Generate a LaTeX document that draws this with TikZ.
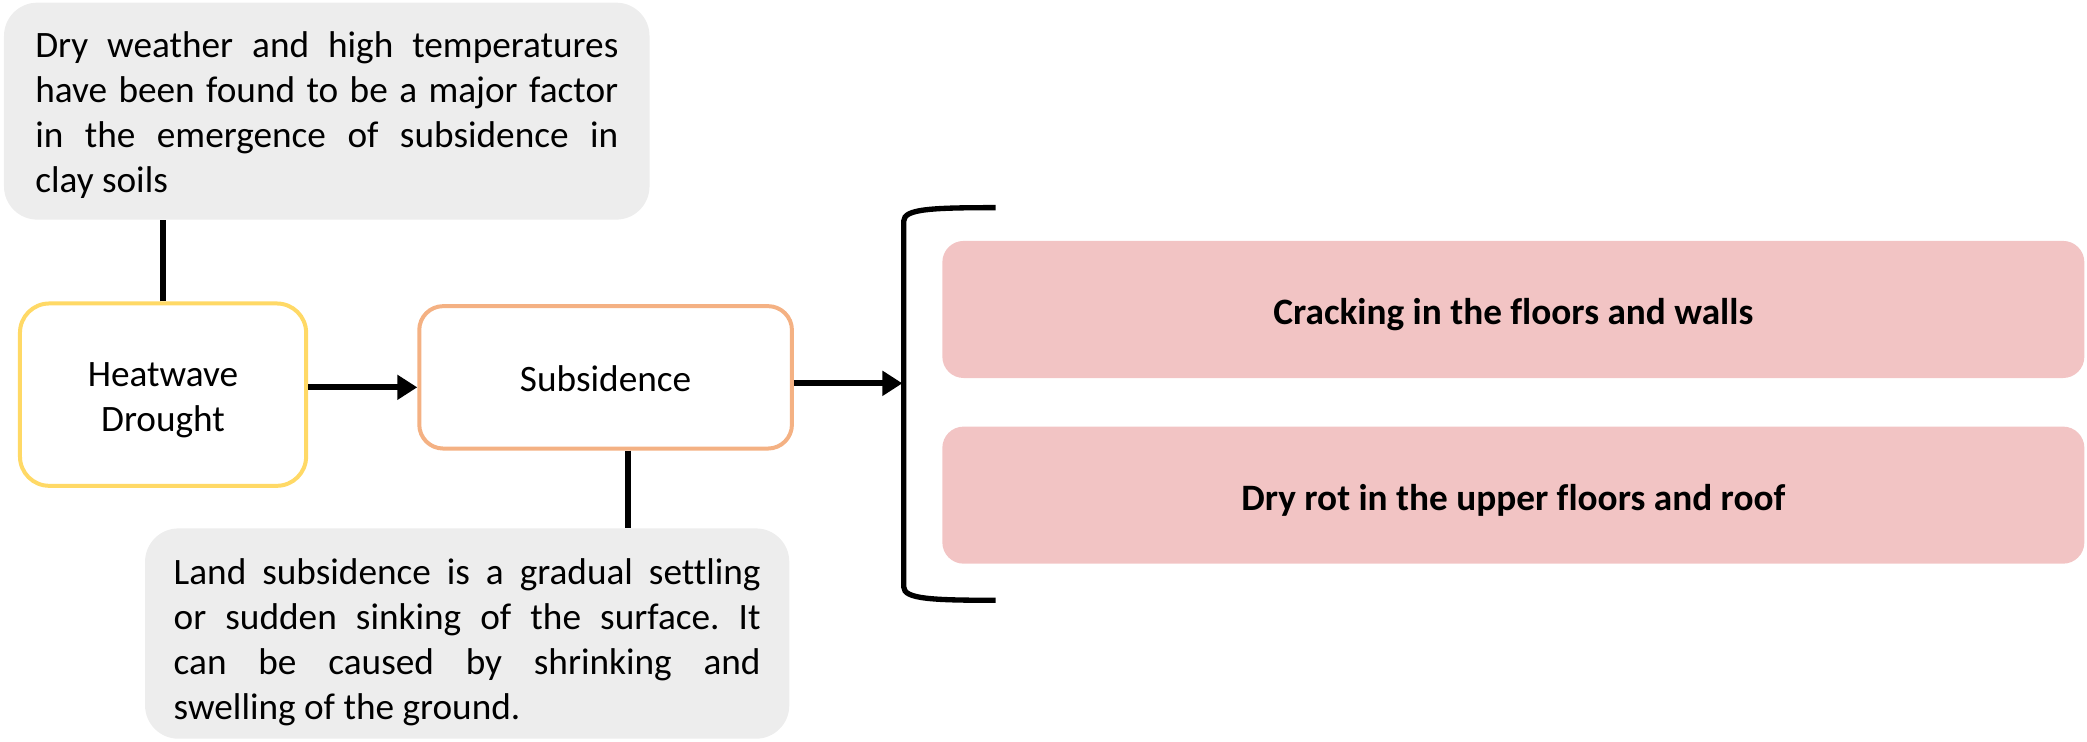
\documentclass[tikz,border=0pt]{standalone}
\usepackage{fontspec}
\setmainfont[Ligatures=NoCommon]{Carlito}
\usetikzlibrary{arrows.meta,calc}
\definecolor{notegray}{HTML}{EDEDED}
\definecolor{heatyellow}{HTML}{FFD966}
\definecolor{subsorange}{HTML}{F4B183}
\definecolor{effectpink}{HTML}{F2C4C4}
\frenchspacing
\begin{document}
\begin{tikzpicture}[x=1pt,y=-1pt,
  every node/.style={font=\fontsize{28}{33.8}\selectfont, inner sep=0pt},
  note/.style={fill=notegray, rounded corners=25pt, align=justify},
  stage/.style={draw, line width=3pt, fill=white, align=center},
  effect/.style={fill=effectpink, rounded corners=16pt,
    font=\fontsize{28}{33.8}\selectfont\bfseries,
    minimum width=858pt, minimum height=103pt,
    text height=26pt, text depth=3pt},
  link/.style={line width=4.5pt},
  arrowlink/.style={line width=4.5pt, -{Triangle[length=15pt,width=18pt]}}
]
\useasboundingbox (0,0) rectangle (1568,557);

% explanatory notes (the leading rule sets the top margin of the text)
\node[note, minimum width=485pt, minimum height=163pt, text width=438pt]
  (topnote) at (245.5,83.5)
  {\rule{0pt}{25pt}Dry weather and high temperatures\linebreak have been found to be a major factor\linebreak in the emergence of subsidence in\linebreak clay soils};
\node[note, minimum width=484pt, minimum height=158pt, text width=441pt]
  (lownote) at (351,476)
  {\rule{0pt}{33pt}Land subsidence is a gradual settling\linebreak or sudden sinking of the surface. It\linebreak can be caused by shrinking and\linebreak swelling of the ground.};

% process stages
\node[stage, draw=heatyellow, rounded corners=22pt, minimum width=215pt, minimum height=137pt]
  (heat) at (122.5,296.5) {\rule{0pt}{27pt}Heatwave\\Drought};
\node[stage, draw=subsorange, rounded corners=18pt, minimum width=280pt, minimum height=107pt,
  text height=26pt, text depth=5pt]
  (sub) at (455,283.5) {Subsidence};

% consequences
\node[effect] (crack) at (1137,232.5) {Cracking in the floors and walls};
\node[effect] (rot) at (1137,372) {Dry rot in the upper floors and roof};

% bracket grouping the consequences
\coordinate (btop) at (748,156);
\coordinate (bbot) at (748,451);
\coordinate (bmid) at (678,288);
\draw[line width=4pt] (btop) .. controls (700,156) and (679,157) .. (679,166)
  -- (679,441) .. controls (679,450) and (700,451) .. (bbot);

% connectors
\draw[link] (heat.north) -- (heat.north |- topnote.south);
\coordinate (sdrop) at ($(sub.south)+(17,0)$);
\draw[link] (sdrop) -- (sdrop |- lownote.north);
\coordinate (a1) at ($(heat.east)+(0,-5.5)$);
\draw[arrowlink] (a1) -- (a1 -| sub.west);
\coordinate (a2) at ($(sub.east)+(0,4.5)$);
\draw[arrowlink] (a2) -- (a2 -| bmid);
\end{tikzpicture}
\end{document}
